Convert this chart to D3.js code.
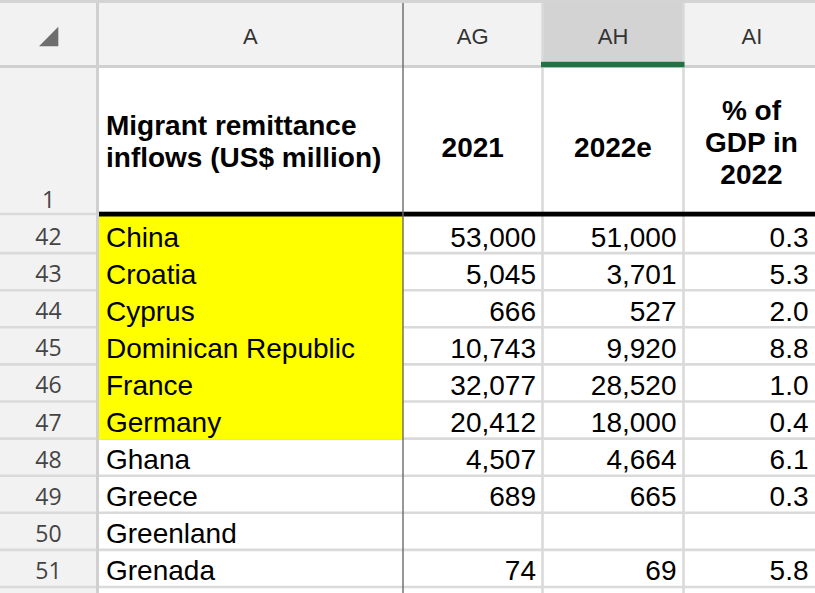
<!DOCTYPE html>
<html>
<head>
<meta charset="utf-8">
<script src="https://cdn.jsdelivr.net/npm/d3@7"></script>
<style>
  html, body { margin: 0; padding: 0; background: #ffffff; }
  svg { display: block; }
</style>
</head>
<body>
<div id="chart"></div>
<script>
// ---------------- DATA ----------------
const columnLetters = ["A", "AG", "AH", "AI"];
const headerRowNumber = 1;
const headerA = ["Migrant remittance", "inflows (US$ million)"];
const headerAG = ["2021"];
const headerAH = ["2022e"];
const headerAI = ["% of", "GDP in", "2022"];
const rowNumbers = [42, 43, 44, 45, 46, 47, 48, 49, 50, 51];
const countries = ["China", "Croatia", "Cyprus", "Dominican Republic", "France", "Germany", "Ghana", "Greece", "Greenland", "Grenada"];
const remit2021 = [53000, 5045, 666, 10743, 32077, 20412, 4507, 689, null, 74];
const remit2022e = [51000, 3701, 527, 9920, 28520, 18000, 4664, 665, null, 69];
const gdpShare2022 = [0.3, 5.3, 2.0, 8.8, 1.0, 0.4, 6.1, 0.3, null, 5.8];
const highlighted = ["China", "Croatia", "Cyprus", "Dominican Republic", "France", "Germany"];
const selectedColumn = "AH";

// ---------------- LAYOUT ----------------
const W = 815, H = 593;
const gridColor = "#dadada";
const headBg = "#f2f2f2";
const fontCell = "'Liberation Sans', Arial, Helvetica, sans-serif";
const fontRowNum = "'Open Sans', 'Noto Sans', sans-serif";

const svg = d3.select("#chart").append("svg")
  .attr("width", W).attr("height", H)
  .attr("viewBox", `0 0 ${W} ${H}`);

// column boundaries (row-header column first)
const colKeys = ["#"].concat(columnLetters);
const colEdges = [0, 97.5, 403, 542.5, 683.5, 818.5];
const colLeft = d3.scaleOrdinal().domain(colKeys).range(colEdges.slice(0, -1));
const colRight = d3.scaleOrdinal().domain(colKeys).range(colEdges.slice(1));
const colCenter = k => (colLeft(k) + colRight(k)) / 2;

// rows
const letterTop = 3, letterBottom = 66.5, headerBottom = 214;
const allRows = rowNumbers.concat([rowNumbers[rowNumbers.length - 1] + 1]);
const y = d3.scaleBand().domain(allRows).range([216, 216 + allRows.length * 37.1]).padding(0);

const fmtInt = d3.format(",");
const fmtPct = d3.format(".1f");

// ---------- backgrounds ----------
svg.append("rect").attr("x", 0).attr("y", 0).attr("width", W).attr("height", H).attr("fill", "#fff");
// top strip
svg.append("rect").attr("x", 0).attr("y", 0).attr("width", W).attr("height", letterTop).attr("fill", "#d4d4d4");
// column letter header
svg.append("rect").attr("x", 0).attr("y", letterTop).attr("width", W).attr("height", letterBottom - letterTop).attr("fill", headBg);
svg.append("rect")
  .attr("x", colLeft(selectedColumn)).attr("y", letterTop)
  .attr("width", colRight(selectedColumn) - colLeft(selectedColumn)).attr("height", letterBottom - letterTop)
  .attr("fill", "#d3d3d3");
// row number column
svg.append("rect").attr("x", 0).attr("y", letterBottom).attr("width", colRight("#")).attr("height", H - letterBottom).attr("fill", headBg);

// yellow highlighted cells
svg.selectAll("rect.hl")
  .data(rowNumbers.filter((r, i) => highlighted.includes(countries[i])))
  .join("rect").attr("class", "hl")
  .attr("x", colLeft("A")).attr("y", d => y(d))
  .attr("width", colRight("A") - colLeft("A")).attr("height", y.bandwidth())
  .attr("fill", "#ffff00");

// ---------- grid lines ----------
// horizontal lines between data rows
const hLines = allRows.slice(1).concat([allRows[allRows.length - 1] + 1]);
svg.selectAll("line.h")
  .data(hLines)
  .join("line").attr("class", "h")
  .attr("x1", 0).attr("x2", W)
  .attr("y1", d => (y(d) !== undefined ? y(d) : y(allRows[allRows.length - 1]) + y.bandwidth()))
  .attr("y2", d => (y(d) !== undefined ? y(d) : y(allRows[allRows.length - 1]) + y.bandwidth()))
  .attr("stroke", gridColor).attr("stroke-width", 2.6);

// re-cover yellow over internal lines (filled cells hide gridlines)
svg.selectAll("rect.hl2")
  .data(rowNumbers.filter((r, i) => highlighted.includes(countries[i])))
  .join("rect").attr("class", "hl2")
  .attr("x", colLeft("A") + 1.3).attr("y", d => y(d))
  .attr("width", colRight("A") - colLeft("A") - 1.3).attr("height", d => y.bandwidth() + (d === 47 ? 0.5 : 1.5))
  .attr("fill", "#ffff00");

// vertical grid lines
["AG", "AH", "AI"].forEach(k => {
  if (k === "AG") return;
  svg.append("line")
    .attr("x1", colLeft(k)).attr("x2", colLeft(k))
    .attr("y1", letterTop).attr("y2", H)
    .attr("stroke", gridColor).attr("stroke-width", 2.6);
});
// row header right edge
svg.append("line")
  .attr("x1", colRight("#")).attr("x2", colRight("#"))
  .attr("y1", letterTop).attr("y2", H)
  .attr("stroke", "#d0d0d0").attr("stroke-width", 3);
// header bottom line
svg.append("line")
  .attr("x1", 0).attr("x2", W).attr("y1", letterBottom).attr("y2", letterBottom)
  .attr("stroke", "#d0d0d0").attr("stroke-width", 3);
// row-header line under row 1
svg.append("line")
  .attr("x1", 0).attr("x2", colRight("#") - 1.5).attr("y1", headerBottom).attr("y2", headerBottom)
  .attr("stroke", gridColor).attr("stroke-width", 2.6);
// thick black border under header row
svg.append("rect")
  .attr("x", colRight("#") + 1.5).attr("y", 211.7)
  .attr("width", W - colRight("#")).attr("height", 4.8)
  .attr("fill", "#000");
// selected column green bar
svg.append("rect")
  .attr("x", colLeft(selectedColumn) - 1.5).attr("y", 61.8)
  .attr("width", colRight(selectedColumn) - colLeft(selectedColumn) + 2.5).attr("height", 5.4)
  .attr("fill", "#217346");
// freeze pane line
svg.append("line")
  .attr("x1", colLeft("AG")).attr("x2", colLeft("AG"))
  .attr("y1", letterTop).attr("y2", H)
  .attr("stroke", "#6a6a6a").attr("stroke-width", 1.4);

// corner triangle
svg.append("path")
  .attr("d", d3.line()([[39, 46.3], [58.3, 26.7], [58.3, 46.3]]) + "Z")
  .attr("fill", "#6e6e6e");

// ---------- column letters ----------
svg.selectAll("text.col")
  .data(columnLetters)
  .join("text").attr("class", "col")
  .attr("x", d => colCenter(d) + (d === "AI" ? 1 : 0)).attr("y", 44)
  .attr("text-anchor", "middle")
  .attr("font-family", fontCell).attr("font-size", 22)
  .attr("fill", "#333")
  .text(d => d);

// ---------- row numbers ----------
svg.append("text")
  .attr("x", 48.5).attr("y", 208)
  .attr("text-anchor", "middle")
  .attr("font-family", fontRowNum).attr("font-size", 23)
  .attr("fill", "#444").text(headerRowNumber);
svg.selectAll("text.rn")
  .data(rowNumbers)
  .join("text").attr("class", "rn")
  .attr("x", 48.5).attr("y", d => y(d) + 29)
  .attr("text-anchor", "middle")
  .attr("font-family", fontRowNum).attr("font-size", 23)
  .attr("fill", "#444").text(d => d);

// ---------- header row 1 ----------
const hdr = svg.append("g")
  .attr("font-family", fontCell).attr("font-weight", "bold").attr("font-size", 28).attr("fill", "#000");
hdr.selectAll("text.ha").data(headerA).join("text").attr("class", "ha")
  .attr("x", colLeft("A") + 8.5).attr("y", (d, i) => 135 + i * 32).text(d => d);
hdr.selectAll("text.hag").data(headerAG).join("text").attr("class", "hag")
  .attr("x", colCenter("AG")).attr("y", 156.5).attr("text-anchor", "middle").text(d => d);
hdr.selectAll("text.hah").data(headerAH).join("text").attr("class", "hah")
  .attr("x", colCenter("AH")).attr("y", 156.5).attr("text-anchor", "middle").text(d => d);
hdr.selectAll("text.hai").data(headerAI).join("text").attr("class", "hai")
  .attr("x", 751.5).attr("y", (d, i) => 120 + i * 32.2).attr("text-anchor", "middle").text(d => d);

// ---------- data cells ----------
const rows = rowNumbers.map((r, i) => ({
  row: r, country: countries[i], v21: remit2021[i], v22: remit2022e[i], pct: gdpShare2022[i]
}));
const cells = svg.append("g")
  .attr("font-family", fontCell).attr("font-size", 28).attr("fill", "#000");
const base = d => y(d.row) + 30.5;
cells.selectAll("text.country").data(rows).join("text").attr("class", "country")
  .attr("x", colLeft("A") + 8.5).attr("y", base).text(d => d.country);
cells.selectAll("text.v21").data(rows.filter(d => d.v21 != null)).join("text").attr("class", "v21")
  .attr("x", colRight("AG") - 6.5).attr("y", base).attr("text-anchor", "end").text(d => fmtInt(d.v21));
cells.selectAll("text.v22").data(rows.filter(d => d.v22 != null)).join("text").attr("class", "v22")
  .attr("x", colRight("AH") - 7).attr("y", base).attr("text-anchor", "end").text(d => fmtInt(d.v22));
cells.selectAll("text.pct").data(rows.filter(d => d.pct != null)).join("text").attr("class", "pct")
  .attr("x", 808.5).attr("y", base).attr("text-anchor", "end").text(d => fmtPct(d.pct));
</script>
</body>
</html>
